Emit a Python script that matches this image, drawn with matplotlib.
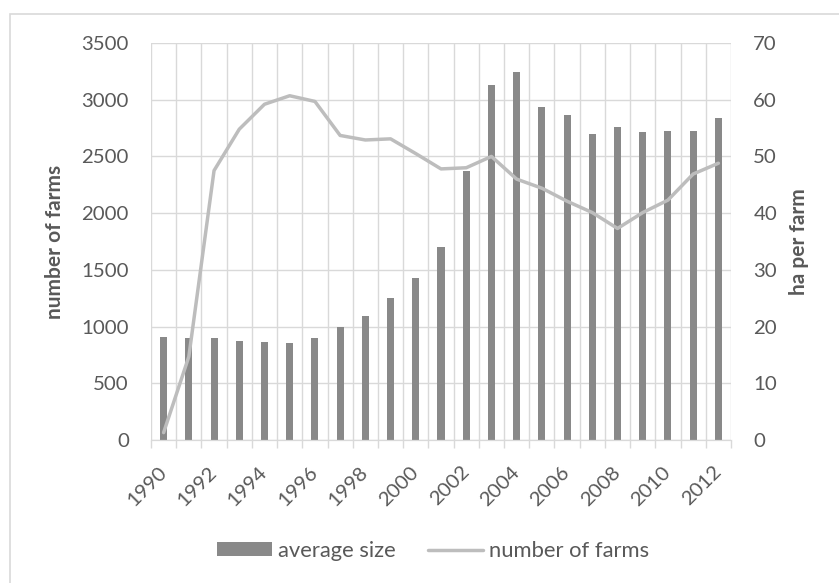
import numpy as np
import matplotlib
matplotlib.use('Agg')
import matplotlib.pyplot as plt
from matplotlib.patches import Rectangle

plt.rcParams['font.family'] = ['Lato', 'DejaVu Sans']

# Yearly series
years = list(range(1990, 2013))
average_size = [911, 897, 897, 873, 867, 858, 897, 999, 1096, 1249, 1425, 1699,
                2372, 3130, 3242, 2936, 2866, 2696, 2760, 2719, 2722, 2728, 2840]
number_of_farms = [1.3, 14.7, 47.5, 54.8, 59.2, 60.7, 59.7, 53.7, 52.9, 53.1, 50.5, 47.8,
                   48.0, 50.0, 46.0, 44.4, 42.1, 40.1, 37.3, 40.1, 42.3, 46.9, 48.8]
tick_years = [str(y) for y in years]

text_col = '#595959'
grid_col = '#D9D9D9'
bar_col = '#898989'
line_col = '#BDBDBD'

W, H = 839, 583
fig = plt.figure(figsize=(W / 100, H / 100), dpi=100)
ax = fig.add_axes([151 / W, 1 - 440 / H, 580 / W, 397 / H])
ax2 = ax.twinx()

x = np.arange(len(years))
bars = ax.bar(x, average_size, width=0.28, color=bar_col, zorder=2, label='average size')
line, = ax2.plot(x, number_of_farms, color=line_col, lw=2.5, solid_capstyle='round',
                 label='number of farms')

ax.set_xlim(-0.5, len(years) - 0.5)
ax.set_ylim(0, 3500)
ax2.set_ylim(0, 70)
ax.set_yticks(np.arange(0, 3501, 500))
ax2.set_yticks(np.arange(0, 71, 10))

# boundary ticks carry the grid, centre ticks carry the labels
ax.set_xticks(np.arange(-0.5, len(years), 1.0))
ax.set_xticklabels([])
ax.set_xticks(x[::2], minor=True)
ax.set_xticklabels(tick_years[::2], minor=True, rotation=45, ha='right', va='center',
                   rotation_mode='anchor')
ax.tick_params(axis='x', which='major', length=6, color=grid_col, width=1)
ax.tick_params(axis='x', which='minor', length=0, pad=21, labelsize=14.7, labelcolor=text_col)
ax.tick_params(axis='y', length=0, pad=16, labelsize=14.7, labelcolor=text_col)
ax2.tick_params(axis='y', length=0, pad=16, labelsize=14.7, labelcolor=text_col)

ax.set_axisbelow(True)
ax.grid(True, which='major', color=grid_col, lw=1)
for a in (ax, ax2):
    for s in ('top', 'right', 'left'):
        a.spines[s].set_visible(False)
    a.spines['bottom'].set_color(grid_col)

ax.set_ylabel('number of farms', fontsize=15, fontweight='bold', color=text_col, labelpad=12)
ax2.set_ylabel('ha per farm', fontsize=15, fontweight='bold', color=text_col, labelpad=9)

fig.legend(handles=[bars, line], loc='center', bbox_to_anchor=(433 / W, 1 - 551 / H),
           ncol=2, frameon=False, fontsize=15.8, handlelength=2.5, handleheight=0.6,
           handletextpad=0.25, columnspacing=1.5, labelcolor=text_col)

# chart frame
fig.patches.append(Rectangle((9.5 / W, -0.05), 1.1, 1 - 13.5 / H + 0.05,
                             transform=fig.transFigure, fill=False,
                             edgecolor=grid_col, lw=1.2))

fig.savefig('out.png', dpi=100)
